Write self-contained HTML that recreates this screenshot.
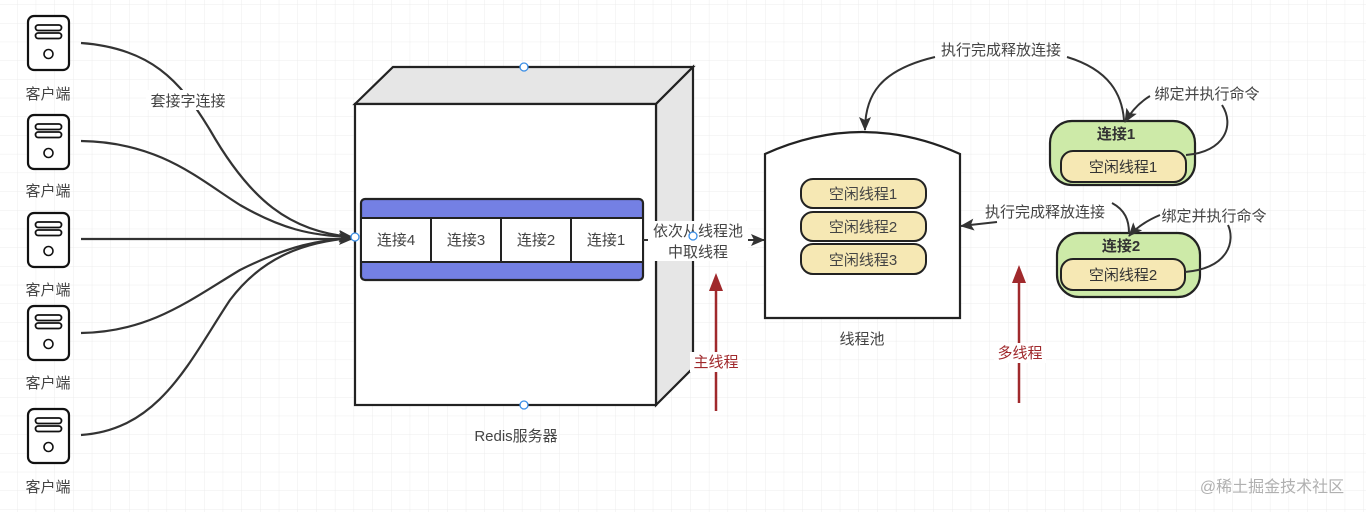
<!DOCTYPE html>
<html><head><meta charset="utf-8"><style>
html,body{margin:0;padding:0;background:#fff;}
svg{display:block;font-family:"Liberation Sans","Noto Sans CJK SC",sans-serif;}
</style></head><body>
<svg width="1366" height="512" viewBox="0 0 1366 512" xmlns="http://www.w3.org/2000/svg">
<defs>
<pattern id="g" x="17" y="4.3" width="18.7" height="18.7" patternUnits="userSpaceOnUse">
<path d="M0 0H18.7M0 0V18.7" stroke="#ececec" stroke-width="1" fill="none"/>
</pattern>
<marker id="a" markerWidth="14" markerHeight="12" refX="13" refY="6" orient="auto" markerUnits="userSpaceOnUse">
<path d="M0 0L14 6L0 12L3 6Z" fill="#333"/></marker>
<g id="srv">
<rect x="0" y="0" width="41" height="54" rx="6" fill="#fff" stroke="#111" stroke-width="2.2"/>
<rect x="7.5" y="9" width="26" height="5.5" rx="2.7" fill="none" stroke="#111" stroke-width="1.8"/>
<rect x="7.5" y="17" width="26" height="5.5" rx="2.7" fill="none" stroke="#111" stroke-width="1.8"/>
<circle cx="20.5" cy="38" r="4.5" fill="none" stroke="#111" stroke-width="1.6"/>
</g>
</defs>
<rect width="1366" height="512" fill="url(#g)"/>

<g font-size="15" fill="#444" text-anchor="middle">
<use href="#srv" x="28" y="16"/><text x="48" y="99">客户端</text>
<use href="#srv" x="28" y="115"/><text x="48" y="196">客户端</text>
<use href="#srv" x="28" y="213"/><text x="48" y="295">客户端</text>
<use href="#srv" x="28" y="306"/><text x="48" y="388">客户端</text>
<use href="#srv" x="28" y="409"/><text x="48" y="492">客户端</text>
</g>

<g fill="none" stroke="#333" stroke-width="2.2">
<path d="M81 43 C150 48 180 80 210 130 C250 200 290 232 352 237" marker-end="url(#a)"/>
<path d="M81 141 C160 142 200 180 240 205 C280 228 310 236 352 237" marker-end="url(#a)"/>
<path d="M81 239 H352" marker-end="url(#a)"/>
<path d="M81 333 C150 332 190 300 240 270 C290 245 320 240 352 238"/>
<path d="M81 435 C160 430 190 360 230 300 C260 260 300 242 352 238"/>
</g>
<rect x="146" y="90" width="84" height="20" fill="#fff"/>
<text x="188" y="106" font-size="15" fill="#444" text-anchor="middle">套接字连接</text>

<path d="M355 104 L393 67 L693 67 L656 104 Z" fill="#e6e6e6" stroke="#222" stroke-width="2.2"/>
<path d="M656 104 L693 67 L693 368 L656 405 Z" fill="#e6e6e6" stroke="#222" stroke-width="2.2"/>
<rect x="355" y="104" width="301" height="301" fill="#fff" stroke="#222" stroke-width="2.2"/>
<rect x="361" y="199" width="282" height="81" rx="4" fill="#7480e4" stroke="#222" stroke-width="2.2"/>
<rect x="361" y="218" width="282" height="44" fill="#fff" stroke="#222" stroke-width="2"/>
<g stroke="#222" stroke-width="2"><path d="M431 218V262M501 218V262M571 218V262"/></g>
<g font-size="15" fill="#444" text-anchor="middle">
<text x="396" y="245">连接4</text><text x="466" y="245">连接3</text><text x="536" y="245">连接2</text><text x="606" y="245">连接1</text>
<text x="516" y="441">Redis服务器</text>
</g>
<circle cx="524" cy="67" r="4" fill="#fff" stroke="#3a8ee6" stroke-width="1.3"/>
<circle cx="524" cy="405" r="4" fill="#fff" stroke="#3a8ee6" stroke-width="1.3"/>
<circle cx="355" cy="237" r="4" fill="#fff" stroke="#3a8ee6" stroke-width="1.3"/>

<path d="M643 240 H764" fill="none" stroke="#333" stroke-width="2" marker-end="url(#a)"/>
<rect x="648" y="221" width="100" height="40" fill="#fff"/>
<g font-size="15" fill="#444" text-anchor="middle">
<text x="698" y="236">依次从线程池</text><text x="698" y="257">中取线程</text></g>
<circle cx="693" cy="236" r="4" fill="#fff" stroke="#3a8ee6" stroke-width="1.3"/>

<path d="M765 154 Q862 110 960 154 L960 318 L765 318 Z" fill="#fff" stroke="#222" stroke-width="2.2"/>
<g stroke="#222" stroke-width="2" fill="#f6e8b4">
<rect x="801" y="179" width="125" height="29" rx="12"/>
<rect x="801" y="212" width="125" height="29" rx="12"/>
<rect x="801" y="244" width="125" height="30" rx="12"/>
</g>
<g font-size="15" fill="#444" text-anchor="middle">
<text x="863" y="199">空闲线程1</text><text x="863" y="232">空闲线程2</text><text x="863" y="265">空闲线程3</text>
<text x="862" y="344">线程池</text></g>

<g stroke="#a0292c" stroke-width="2.5" fill="#a0292c">
<path d="M716 411 V285"/><path d="M709 291 L716 273 L723 291 Z" stroke="none"/>
<path d="M1019 403 V278"/><path d="M1012 283 L1019 265 L1026 283 Z" stroke="none"/>
</g>
<rect x="690" y="352" width="52" height="20" fill="#fff"/>
<rect x="994" y="343" width="52" height="20" fill="#fff"/>
<g font-size="15" fill="#a0292c" text-anchor="middle">
<text x="716" y="367">主线程</text><text x="1020" y="358">多线程</text></g>

<rect x="1050" y="121" width="145" height="64" rx="22" fill="#cdeaa8" stroke="#222" stroke-width="2.2"/>
<rect x="1061" y="151" width="125" height="31" rx="12" fill="#f6e8b4" stroke="#222" stroke-width="2"/>
<rect x="1057" y="233" width="143" height="64" rx="22" fill="#cdeaa8" stroke="#222" stroke-width="2.2"/>
<rect x="1061" y="259" width="124" height="31" rx="12" fill="#f6e8b4" stroke="#222" stroke-width="2"/>
<g font-size="15" fill="#333" text-anchor="middle">
<text x="1116" y="139" font-weight="bold">连接1</text>
<text x="1123" y="172">空闲线程1</text>
<text x="1121" y="251" font-weight="bold">连接2</text>
<text x="1123" y="280">空闲线程2</text>
</g>

<g fill="none" stroke="#333" stroke-width="2">
<path d="M935 57 C880 70 865 95 865 130" marker-end="url(#a)"/>
<path d="M1067 57 C1110 70 1122 95 1124 120"/>
<path d="M1150 96 C1140 102 1132 110 1125 122" marker-end="url(#a)"/>
<path d="M1186 155 C1225 152 1235 125 1222 105"/>
<path d="M997 222 L961 226" marker-end="url(#a)"/>
<path d="M1112 203 C1125 210 1129 220 1129 233"/>
<path d="M1160 215 C1148 220 1138 226 1129 236" marker-end="url(#a)"/>
<path d="M1185 272 C1230 268 1235 240 1228 225"/>
</g>
<g font-size="15" fill="#444" text-anchor="middle">
<text x="1001" y="55">执行完成释放连接</text>
<text x="1207" y="99">绑定并执行命令</text>
<text x="1045" y="217">执行完成释放连接</text>
<text x="1214" y="221">绑定并执行命令</text>
</g>

<text x="1272" y="492" font-size="16" fill="#b0b0b0" text-anchor="middle">@稀土掘金技术社区</text>
</svg>
</body></html>
